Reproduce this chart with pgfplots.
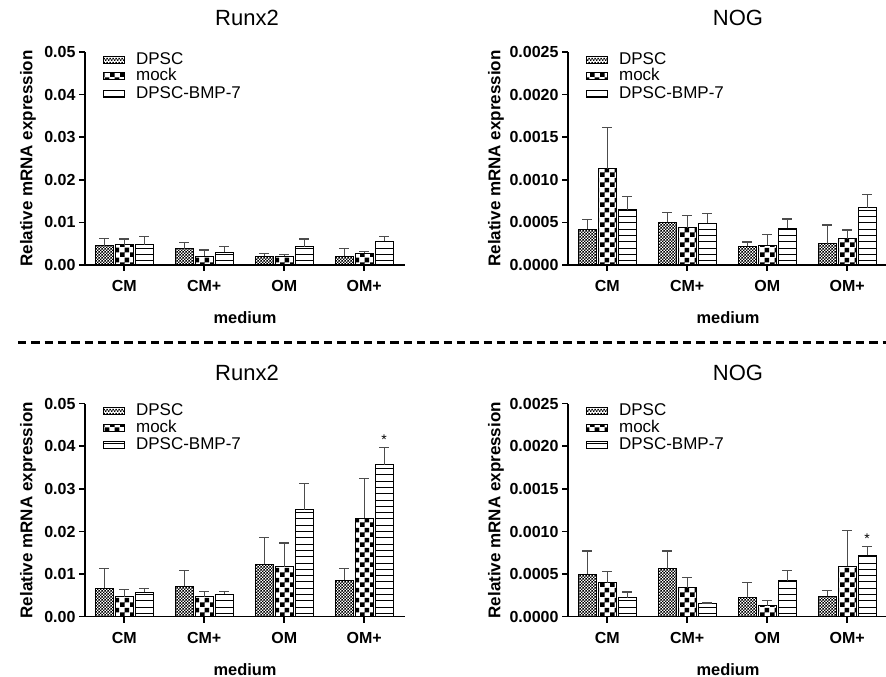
\documentclass[border=0pt]{standalone}
\usepackage{fontspec}
\setmainfont{Liberation Sans}
\usepackage{pgfplots}
\pgfplotsset{compat=1.18}
\usetikzlibrary{patterns}

% bar fills
\pgfdeclarepatternformonly{finecheck}{\pgfpointorigin}{\pgfqpoint{3.4pt}{3.4pt}}{\pgfqpoint{3.4pt}{3.4pt}}{%
  \pgfpathrectangle{\pgfpointorigin}{\pgfqpoint{1.7pt}{1.7pt}}%
  \pgfpathrectangle{\pgfqpoint{1.7pt}{1.7pt}}{\pgfqpoint{1.7pt}{1.7pt}}%
  \pgfusepath{fill}}
\pgfdeclarepatternformonly{bigcheck}{\pgfpointorigin}{\pgfqpoint{10pt}{10pt}}{\pgfqpoint{10pt}{10pt}}{%
  \pgfpathrectangle{\pgfpointorigin}{\pgfqpoint{5pt}{5pt}}%
  \pgfpathrectangle{\pgfqpoint{5pt}{5pt}}{\pgfqpoint{5pt}{5pt}}%
  \pgfusepath{fill}}
\pgfdeclarepatternformonly{hlines}{\pgfpointorigin}{\pgfqpoint{100pt}{1pt}}{\pgfqpoint{100pt}{6.3pt}}{%
  \pgfpathrectangle{\pgfpointorigin}{\pgfqpoint{100pt}{1pt}}%
  \pgfusepath{fill}}

\pgfplotsset{
  panel/.style={
    scale only axis, width=320pt, height=213pt,
    anchor=south west,
    axis x line*=bottom, axis y line*=left,
    axis line style={line width=1.6pt},
    every tick/.style={black, line width=1.6pt},
    tick align=outside, major tick length=6pt,
    xmin=-0.49, xmax=3.51, ymin=0,
    xtick={0,1,2,3}, xticklabels={CM,CM+,OM,OM+},
    ybar=2pt, bar width=18pt,
    /pgf/number format/assume math mode=true,
    tick label style={font=\fontsize{16}{18}\selectfont\bfseries},
    xticklabel style={yshift=-6pt},
    scaled y ticks=false,
    xlabel={medium},
    xlabel style={font=\fontsize{16.4}{19}\selectfont\bfseries, at={(axis description cs:0.5,0)}, anchor=center, yshift=-52.5pt},
    ylabel={Relative mRNA expression},
    ylabel style={font=\fontsize{17}{20}\selectfont\bfseries, anchor=center},
    title style={font=\fontsize{22}{26}\selectfont, at={(axis description cs:0.5,1)}, anchor=base, inner sep=0pt},
    legend style={at={(axis description cs:0.045,1.015)}, anchor=north west, draw=none, fill=none,
      font=\fontsize{17}{19}\selectfont,
      nodes={inner sep=0.5pt, text height=12.5pt, text depth=3.5pt},
      /tikz/every odd column/.append style={column sep=11pt}},
    legend cell align=left,
    legend image code/.code={\draw[#1] (0pt,-3.5pt) rectangle (21pt,3.5pt);},
    error bars/y dir=plus, error bars/y explicit,
    error bars/error bar style={line width=1.2pt, color=black!70},
    error bars/error mark options={rotate=90, line width=1.2pt, color=black!70, mark size=5pt},
  },
  runx/.style={ymax=0.05, ytick={0,0.01,0.02,0.03,0.04,0.05},
    yticklabel style={/pgf/number format/.cd, fixed, fixed zerofill, precision=2},
    ylabel style={at={(axis description cs:-0.178,0.5)}}},
  nog/.style={ymax=0.0025, ytick={0,0.0005,0.001,0.0015,0.002,0.0025},
    yticklabel style={/pgf/number format/.cd, fixed, fixed zerofill, precision=4},
    ylabel style={at={(axis description cs:-0.225,0.5)}}},
  dpsc/.style={draw=black, line width=1pt, pattern=finecheck},
  mock/.style={draw=black, line width=1pt, pattern=bigcheck},
  bmp/.style={draw=black, line width=1pt, pattern=hlines},
}

\begin{document}
\begin{tikzpicture}
\useasboundingbox (0pt,0pt) rectangle (886pt,677pt);

% top left
\begin{axis}[panel, runx, at={(85pt,412pt)}, title={Runx2}, title style={xshift=2pt, yshift=20pt}]
\addplot[dpsc] coordinates {(0,0.0045) +- (0,0.0018) (1,0.0038) +- (0,0.0015) (2,0.0021) +- (0,0.0006) (3,0.0021) +- (0,0.0017)};
\addplot[mock] coordinates {(0,0.0047) +- (0,0.0014) (1,0.0021) +- (0,0.0014) (2,0.0020) +- (0,0.0005) (3,0.0027) +- (0,0.0004)};
\addplot[bmp] coordinates {(0,0.0047) +- (0,0.0020) (1,0.0030) +- (0,0.0013) (2,0.0043) +- (0,0.0018) (3,0.0056) +- (0,0.0011)};
\legend{DPSC,mock,DPSC-BMP-7}
\end{axis}

% top right
\begin{axis}[panel, nog, at={(568pt,412pt)}, title={NOG}, title style={xshift=10pt, yshift=20pt}]
\addplot[dpsc] coordinates {(0,0.00042) +- (0,0.00011) (1,0.00050) +- (0,0.00012) (2,0.00022) +- (0,0.00005) (3,0.00025) +- (0,0.00022)};
\addplot[mock] coordinates {(0,0.00113) +- (0,0.00048) (1,0.00044) +- (0,0.00014) (2,0.00023) +- (0,0.00013) (3,0.00031) +- (0,0.00010)};
\addplot[bmp] coordinates {(0,0.00065) +- (0,0.00015) (1,0.00049) +- (0,0.00011) (2,0.00043) +- (0,0.00011) (3,0.00067) +- (0,0.00016)};
\legend{DPSC,mock,DPSC-BMP-7}
\end{axis}

% bottom left
\begin{axis}[panel, runx, at={(85pt,60.3pt)}, title={Runx2}, title style={xshift=2pt, yshift=17.5pt}]
\addplot[dpsc] coordinates {(0,0.0067) +- (0,0.0047) (1,0.0071) +- (0,0.0037) (2,0.0123) +- (0,0.0063) (3,0.0086) +- (0,0.0028)};
\addplot[mock] coordinates {(0,0.0047) +- (0,0.0017) (1,0.0047) +- (0,0.0012) (2,0.0117) +- (0,0.0056) (3,0.0231) +- (0,0.0094)};
\addplot[bmp] coordinates {(0,0.0057) +- (0,0.0010) (1,0.0053) +- (0,0.0006) (2,0.0251) +- (0,0.0061) (3,0.0357) +- (0,0.0040)};
\legend{DPSC,mock,DPSC-BMP-7}
\node[font=\fontsize{14}{16}\selectfont] at (axis cs:3.25,0.0415) {*};
\end{axis}

% bottom right
\begin{axis}[panel, nog, at={(568pt,60.3pt)}, title={NOG}, title style={xshift=10pt, yshift=17.5pt}]
\addplot[dpsc] coordinates {(0,0.00050) +- (0,0.00027) (1,0.00056) +- (0,0.00021) (2,0.00022) +- (0,0.00018) (3,0.00024) +- (0,0.00007)};
\addplot[mock] coordinates {(0,0.00040) +- (0,0.00013) (1,0.00034) +- (0,0.00012) (2,0.00013) +- (0,0.00006) (3,0.00059) +- (0,0.00042)};
\addplot[bmp] coordinates {(0,0.00022) +- (0,0.00007) (1,0.00015) +- (0,0.00001) (2,0.00042) +- (0,0.00012) (3,0.00072) +- (0,0.00010)};
\legend{DPSC,mock,DPSC-BMP-7}
\node[font=\fontsize{14}{16}\selectfont] at (axis cs:3.25,0.00091) {*};
\end{axis}

% separator
\draw[line width=3pt, dash pattern=on 8.3pt off 5pt] (18pt,334pt) -- (886pt,334pt);
\end{tikzpicture}
\end{document}
